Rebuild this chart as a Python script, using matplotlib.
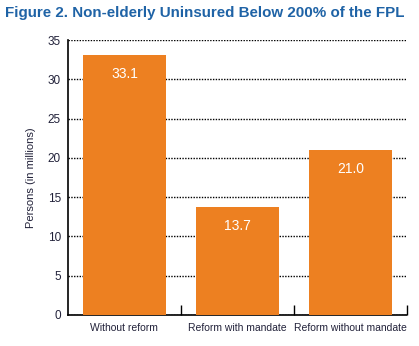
import matplotlib.pyplot as plt
import numpy as np

# Non-elderly uninsured below 200% FPL, by scenario
scenarios = ["Without reform", "Reform with mandate", "Reform without mandate"]
persons = [33.1, 13.7, 21.0]
yticks = [0, 5, 10, 15, 20, 25, 30, 35]

font = "Liberation Sans"
bar_color = "#ED8021"
title_color = "#1F63A6"
text_color = "#22223A"

fig = plt.figure(figsize=(4.19, 3.46), dpi=100)
ax = fig.add_axes([0.162, 0.0896, 0.809, 0.7944])

x = np.arange(len(scenarios))
ax.bar(x, persons, width=0.73, color=bar_color, zorder=3)

for xi, v in zip(x, persons):
    ax.text(xi, v - 1.5, f"{v:.1f}", ha="center", va="top", color="white",
            fontsize=10, family=font, zorder=4)

ax.set_xlim(-0.5, len(scenarios) - 0.5)
ax.set_ylim(0, 35)
ax.set_yticks(yticks)
ax.set_yticklabels([str(t) for t in yticks], family=font, fontsize=8.5, color=text_color)
ax.tick_params(axis="y", length=0, pad=5)

# category labels centred, tick marks on the boundaries
ax.set_xticks(x)
ax.set_xticklabels(scenarios, family=font, fontsize=7.5, color=text_color)
ax.tick_params(axis="x", which="major", length=0, pad=6)
ax.set_xticks(list(x[1:] - 0.5) + [len(scenarios) - 0.5], minor=True)
ax.tick_params(axis="x", which="minor", direction="in", length=7, width=1, color="black")

ax.grid(axis="y", color="black", linestyle=(0, (1, 1)), linewidth=1, zorder=1)
for side in ["top", "right"]:
    ax.spines[side].set_visible(False)
for side in ["left", "bottom"]:
    ax.spines[side].set_linestyle((0, (1, 1)))
    ax.spines[side].set_linewidth(1.2)

ax.set_ylabel("Persons (in millions)", family=font, fontsize=8, color=text_color)
ax.yaxis.set_label_coords(-0.095, 0.5)

fig.text(0.012, 0.962, "Figure 2. Non-elderly Uninsured Below 200% of the FPL",
         ha="left", va="center", fontsize=10.9, fontweight="bold",
         color=title_color, family=font)

fig.savefig("out.png", dpi=100)
